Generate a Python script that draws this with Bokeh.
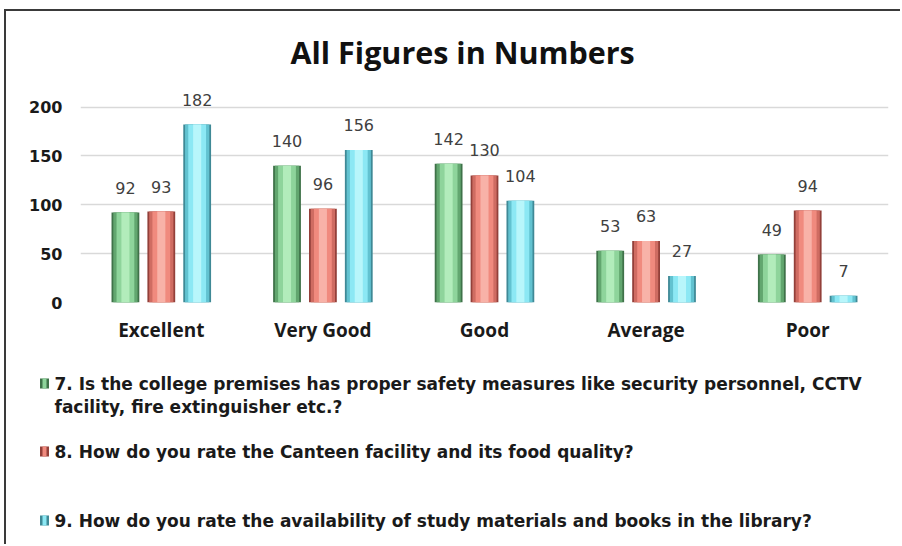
from bokeh.plotting import figure
from bokeh.models import ColumnDataSource, FactorRange, Range1d
from bokeh.transform import dodge
from bokeh.core.properties import value
from bokeh.embed import file_html
from bokeh.resources import INLINE

# ---- data ----
categories = ["Excellent", "Very Good", "Good", "Average", "Poor"]
q7_safety = [92, 140, 142, 53, 49]
q8_canteen = [93, 96, 130, 63, 94]
q9_library = [182, 156, 104, 27, 7]
y_ticks = [0, 50, 100, 150, 200]
series_names = [
    "7. Is the college premises has proper safety measures like security personnel, CCTV",
    "8. How do you rate the Canteen facility and its food quality?",
    "9. How do you rate the availability of study materials and books in the library?",
]
series_name_line2 = "facility, fire extinguisher etc.?"

src = ColumnDataSource(dict(cat=categories, q7=q7_safety, q8=q8_canteen, q9=q9_library))

W, H_TOP, H_LEG = 896, 344, 191
p = figure(
    x_range=FactorRange(*categories, range_padding=0),
    y_range=Range1d(0, 222),
    width=W, height=H_TOP,
    output_backend="svg", toolbar_location=None,
    min_border_left=74, min_border_right=14, min_border_top=74, min_border_bottom=53,
    background_fill_color="white", border_fill_color="white",
)
p.styles = {"margin-left": "4px", "margin-top": "9px",
            "border-left": "2px solid #3a3a3a", "border-top": "2px solid #3a3a3a"}
p.outline_line_color = None

p.title.text = "All Figures in Numbers"
p.title.align = "left"
p.title.offset = 210
p.title.text_font = "Open Sans"
p.title.text_font_style = "bold"
p.title.text_font_size = "30.5px"
p.title.text_color = "#111111"
p.title.standoff = 26

# grid / axes
p.xgrid.grid_line_color = None
p.ygrid.grid_line_color = "#d9d9d9"
p.ygrid.grid_line_width = 1.5
p.yaxis.ticker = y_ticks
p.yaxis.axis_line_color = None
p.yaxis.major_tick_line_color = None
p.yaxis.minor_tick_line_color = None
p.yaxis.major_label_text_font = "DejaVu Sans"
p.yaxis.major_label_text_font_style = "bold"
p.yaxis.major_label_text_font_size = "16px"
p.yaxis.major_label_text_color = "#1a1a1a"
p.yaxis.major_label_standoff = 12

p.xaxis.axis_line_color = None
p.xaxis.major_tick_line_color = None
p.xaxis.minor_tick_line_color = None
p.xaxis.major_label_text_font = "Open Sans"
p.xaxis.major_label_text_font_style = "bold"
p.xaxis.major_label_text_font_size = "19px"
p.xaxis.major_label_text_color = "#1a1a1a"
p.xaxis.major_label_standoff = 8

offsets = [-0.222, 0.0, 0.222]
cols = ["q7", "q8", "q9"]
# bevel look: layered bars from dark edge to light centre
palettes = [
    ["#3f7249", "#62a66f", "#8ed49b", "#b2ecbb"],
    ["#93403a", "#cf6c62", "#f08a7e", "#f8b2a8"],
    ["#3f8996", "#62c2d0", "#8ce8f4", "#b8f6fb"],
]
widths = [0.172, 0.15, 0.11, 0.05]

for col, off, pal in zip(cols, offsets, palettes):
    for w, c in zip(widths, pal):
        p.vbar(x=dodge("cat", off, range=p.x_range), top=col, width=w, source=src,
               fill_color=c, line_color=None)
    p.text(x=dodge("cat", off, range=p.x_range), y=col, text=col, source=src,
           text_align="center", text_baseline="bottom", y_offset=-19,
           text_font=value("DejaVu Sans"), text_font_size="16px", text_color="#404040")

# ---- legend panel (pixel-like coordinates, y downward), separate root ----
leg = figure(
    x_range=Range1d(0, W), y_range=Range1d(H_LEG, 0),
    width=W, height=H_LEG, output_backend="svg", toolbar_location=None,
    min_border=0, min_border_left=0, min_border_right=0, min_border_top=0, min_border_bottom=0,
    background_fill_color="white", border_fill_color="white",
)
leg.styles = {"margin-left": "4px", "border-left": "2px solid #3a3a3a"}
leg.axis.visible = False
leg.grid.visible = False
leg.outline_line_color = None

legend_colors = [("#3f7249", "#8ed49b"), ("#93403a", "#f08a7e"), ("#3f8996", "#8ce8f4")]
legend_y = [30, 98, 167]
lsrc = ColumnDataSource(dict(
    x=[38, 38, 38], y=legend_y,
    edge=[c[0] for c in legend_colors], fill=[c[1] for c in legend_colors],
))
leg.rect(x="x", y="y", width=9, height=10, source=lsrc, fill_color="edge", line_color=None)
leg.rect(x="x", y="y", width=4, height=10, source=lsrc, fill_color="fill", line_color=None)

tsrc = ColumnDataSource(dict(
    x=[48, 48, 48, 48],
    y=[legend_y[0], 53, legend_y[1], legend_y[2]],
    t=[series_names[0], series_name_line2, series_names[1], series_names[2]],
))
leg.text(x="x", y="y", text="t", source=tsrc, text_baseline="middle", text_align="left",
         text_font=value("DejaVu Sans"), text_font_style="bold", text_font_size="17px",
         text_color="#1a1a1a")

open("out.html", "w").write(file_html([p, leg], INLINE))
